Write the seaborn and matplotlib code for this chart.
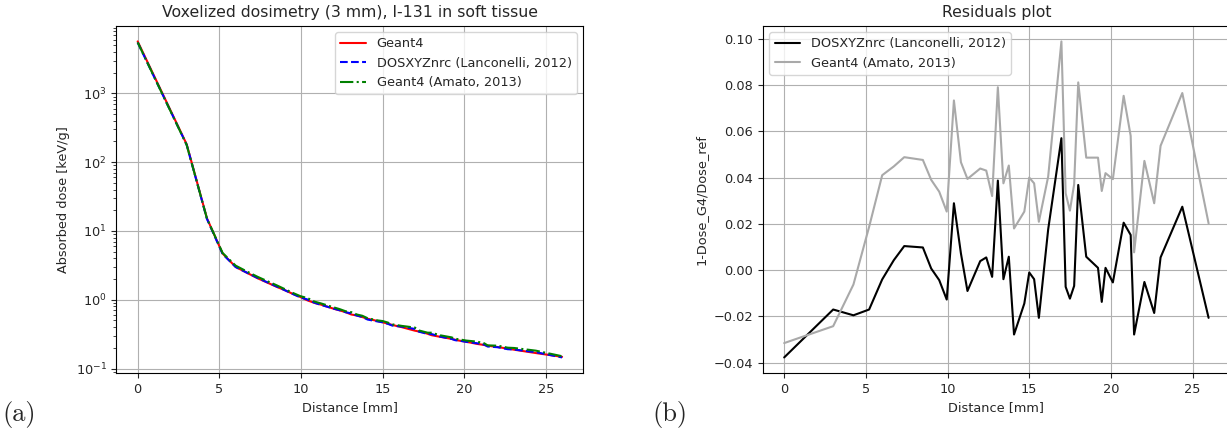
import matplotlib
matplotlib.use("Agg")
import matplotlib.pyplot as plt
import seaborn as sns

# distances of voxel centres [mm]
distance = [0.0, 3.0, 4.24, 5.2, 6.0, 6.71, 7.35, 8.49, 9.0, 9.49, 9.95,
            10.39, 10.82, 11.22, 12.0, 12.37, 12.73, 13.08, 13.42, 13.75,
            14.07, 14.7, 15.0, 15.3, 15.59, 16.16, 16.97, 17.23, 17.49,
            17.75, 18.0, 18.49, 19.21, 19.44, 19.67, 20.12, 20.78, 21.21,
            21.42, 22.05, 22.65, 23.04, 24.37, 25.98]

# absorbed dose [keV/g]
dose_geant4 = [5700, 182, 15.3, 4.7, 3.0, 2.45, 2.05, 1.55, 1.38, 1.22, 1.10,
               0.98, 0.90, 0.85, 0.74, 0.70, 0.66, 0.61, 0.59, 0.56,
               0.53, 0.49, 0.47, 0.45, 0.43, 0.40, 0.355, 0.345, 0.335,
               0.32, 0.305, 0.29, 0.27, 0.262, 0.255, 0.245, 0.228, 0.22,
               0.215, 0.205, 0.195, 0.188, 0.168, 0.148]
dose_dosxyz = [5490, 179, 15.0, 4.62, 2.99, 2.46, 2.07, 1.565, 1.38, 1.215, 1.086,
               1.009, 0.906, 0.842, 0.743, 0.704, 0.658, 0.634, 0.588, 0.563,
               0.516, 0.483, 0.47, 0.448, 0.421, 0.407, 0.376, 0.3425, 0.331,
               0.318, 0.317, 0.292, 0.27, 0.258, 0.255, 0.244, 0.233, 0.223,
               0.209, 0.204, 0.191, 0.189, 0.173, 0.145]
dose_amato = [5520, 178, 15.2, 4.79, 3.13, 2.56, 2.15, 1.63, 1.43, 1.26, 1.13,
              1.06, 0.94, 0.885, 0.775, 0.73, 0.68, 0.66, 0.61, 0.585,
              0.54, 0.50, 0.49, 0.467, 0.439, 0.417, 0.394, 0.357, 0.344,
              0.332, 0.332, 0.305, 0.284, 0.271, 0.266, 0.255, 0.246, 0.233,
              0.217, 0.215, 0.201, 0.199, 0.182, 0.151]

# residuals 1 - Dose_G4/Dose_ref
resid_dosxyz = [-0.0377, -0.017, -0.0195, -0.017, -0.004, 0.0043, 0.0104, 0.0098, 0.0007, -0.0043, -0.0127,
                0.0289, 0.0072, -0.009, 0.0039, 0.0055, -0.0029, 0.0387, -0.0039, 0.0058,
                -0.0278, -0.0144, -0.001, -0.0039, -0.0206, 0.0176, 0.057, -0.0072, -0.0123,
                -0.0068, 0.0368, 0.0058, 0.001, -0.0137, 0.001, -0.0053, 0.0205, 0.0152,
                -0.0278, -0.0051, -0.0185, 0.0055, 0.0274, -0.0206]
resid_amato = [-0.0315, -0.0242, -0.0062, 0.0187, 0.041, 0.0448, 0.0488, 0.0476, 0.039, 0.0339, 0.0253,
               0.0733, 0.0466, 0.0394, 0.0439, 0.043, 0.032, 0.079, 0.0375, 0.0452,
               0.018, 0.0253, 0.040, 0.0375, 0.0209, 0.0404, 0.0988, 0.0332, 0.0257,
               0.0371, 0.0811, 0.0486, 0.0486, 0.0342, 0.0419, 0.0393, 0.0753, 0.058,
               0.0077, 0.0472, 0.0289, 0.0537, 0.0765, 0.0202]

fs = 9.3        # labels, ticks, legend
fs_title = 11.3

sns.set_style("ticks")
plt.rcParams["font.family"] = ["DejaVu Sans"]
plt.rcParams["font.size"] = fs
plt.rcParams["axes.edgecolor"] = "black"
plt.rcParams["grid.color"] = "#b0b0b0"
plt.rcParams["grid.linewidth"] = 0.8

fig = plt.figure(figsize=(12.27, 4.34), dpi=100)
ax1 = fig.add_axes([0.0949, 0.14, 0.3805, 0.801])
ax2 = fig.add_axes([0.6218, 0.14, 0.3805, 0.801])

# left: dose profiles
sns.lineplot(x=distance, y=dose_geant4, ax=ax1, color="red", lw=1.5, label="Geant4")
sns.lineplot(x=distance, y=dose_dosxyz, ax=ax1, color="blue", lw=1.5, linestyle="--",
             label="DOSXYZnrc (Lanconelli, 2012)")
sns.lineplot(x=distance, y=dose_amato, ax=ax1, color="green", lw=1.5, linestyle="-.",
             label="Geant4 (Amato, 2013)")
ax1.set_yscale("log")
ax1.set_xticks([0, 5, 10, 15, 20, 25])
ax1.set_xlabel("Distance [mm]", fontsize=fs)
ax1.set_ylabel("Absorbed dose [keV/g]", fontsize=fs)
ax1.set_title("Voxelized dosimetry (3 mm), I-131 in soft tissue", fontsize=fs_title)
ax1.tick_params(labelsize=fs)
ax1.grid(True)
ax1.legend(loc="upper right", fontsize=fs)

# right: residuals
sns.lineplot(x=distance, y=resid_dosxyz, ax=ax2, color="black", lw=1.5,
             label="DOSXYZnrc (Lanconelli, 2012)")
sns.lineplot(x=distance, y=resid_amato, ax=ax2, color="darkgray", lw=1.5,
             label="Geant4 (Amato, 2013)")
ax2.set_xticks([0, 5, 10, 15, 20, 25])
ax2.set_xlabel("Distance [mm]", fontsize=fs)
ax2.set_ylabel("1-Dose_G4/Dose_ref", fontsize=fs)
ax2.set_title("Residuals plot", fontsize=fs_title)
ax2.tick_params(labelsize=fs)
ax2.grid(True)
ax2.legend(loc="upper left", fontsize=fs)

fig.text(0.002, 0.046, "(a)", family="cmr10", fontsize=19, va="center")
fig.text(0.532, 0.046, "(b)", family="cmr10", fontsize=19, va="center")

fig.savefig("out.png", dpi=100)
